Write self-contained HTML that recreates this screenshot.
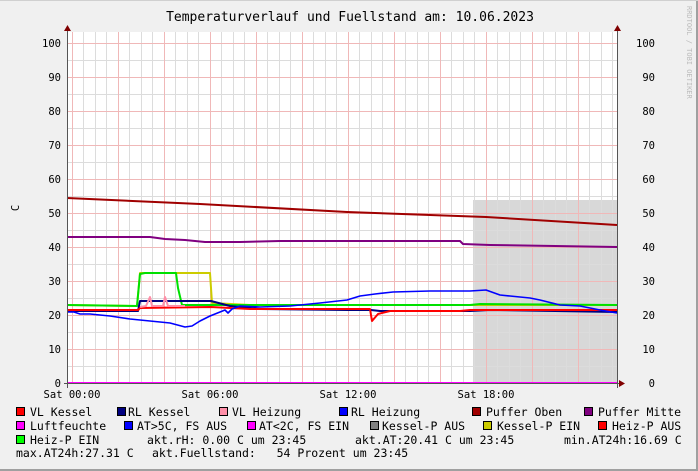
<!DOCTYPE html>
<html><head><meta charset="utf-8"><style>
body{margin:0;background:#f0f0f0}
svg{display:block}
text{font-family:"DejaVu Sans Mono","Liberation Mono",monospace;font-size:10.5px;fill:#000}
.lg{font-size:11.5px}
</style></head><body>
<svg width="698" height="471" viewBox="0 0 698 471" xmlns="http://www.w3.org/2000/svg">
<rect x="0" y="0" width="698" height="471" fill="#f0f0f0"/>
<line x1="0" y1="470" x2="698" y2="470" stroke="#a0a0a0" stroke-width="2"/>
<line x1="697" y1="0" x2="697" y2="471" stroke="#a0a0a0" stroke-width="2"/>
<line x1="0" y1="0.5" x2="698" y2="0.5" stroke="#d0d0d0"/>
<rect x="67" y="32" width="550" height="351" fill="#fff"/>
<rect x="473" y="200" width="144" height="183" fill="#d8d8d8"/>
<path stroke="#dcdcdc" stroke-width="1" fill="none" d="
M83.5,32V383M95.5,32V383M106.5,32V383M129.5,32V383M141.5,32V383M152.5,32V383M175.5,32V383M187.5,32V383M198.5,32V383M221.5,32V383M233.5,32V383M244.5,32V383M267.5,32V383M279.5,32V383M290.5,32V383M313.5,32V383M325.5,32V383M336.5,32V383M359.5,32V383M371.5,32V383M382.5,32V383M405.5,32V383M417.5,32V383M428.5,32V383M451.5,32V383M463.5,32V383M474.5,32V383M497.5,32V383M509.5,32V383M520.5,32V383M543.5,32V383M555.5,32V383M566.5,32V383M589.5,32V383M601.5,32V383M612.5,32V383
M67,366.5H617M67,332.5H617M67,298.5H617M67,264.5H617M67,230.5H617M67,196.5H617M67,162.5H617M67,128.5H617M67,94.5H617M67,60.5H617"/>
<path stroke="#f0b8b8" stroke-width="1" fill="none" d="
M72.5,32V383M118.5,32V383M164.5,32V383M210.5,32V383M256.5,32V383M302.5,32V383M348.5,32V383M394.5,32V383M440.5,32V383M486.5,32V383M532.5,32V383M578.5,32V383
M67,349.5H617M67,315.5H617M67,281.5H617M67,247.5H617M67,213.5H617M67,179.5H617M67,145.5H617M67,111.5H617M67,77.5H617M67,43.5H617"/>
<text x="350" y="21" text-anchor="middle" style="font-size:13px">Temperaturverlauf und Fuellstand am: 10.06.2023</text>
<text x="687" y="6" transform="rotate(90 687 6)" style="font-size:7px;fill:#bbb">RRDTOOL / TOBI OETIKER</text>
<text x="19" y="208" transform="rotate(-90 19 208)" text-anchor="middle">C</text>
<g text-anchor="end">
<text x="61" y="47">100</text><text x="61" y="81">90</text><text x="61" y="115">80</text><text x="61" y="149">70</text><text x="61" y="183">60</text><text x="61" y="217">50</text><text x="61" y="251">40</text><text x="61" y="285">30</text><text x="61" y="319">20</text><text x="61" y="353">10</text><text x="61" y="387">0</text>
<text x="655" y="47">100</text><text x="655" y="81">90</text><text x="655" y="115">80</text><text x="655" y="149">70</text><text x="655" y="183">60</text><text x="655" y="217">50</text><text x="655" y="251">40</text><text x="655" y="285">30</text><text x="655" y="319">20</text><text x="655" y="353">10</text><text x="655" y="387">0</text>
</g>
<g text-anchor="middle">
<text x="72" y="398">Sat 00:00</text><text x="210" y="398">Sat 06:00</text><text x="348" y="398">Sat 12:00</text><text x="486" y="398">Sat 18:00</text>
</g>
<g fill="none" stroke-width="2" stroke-linejoin="round">
<polyline stroke="#ff00ff" points="67,383 617,383"/>
<polyline stroke="#a00000" points="67,198 200,204 347,212 486,217 617,225"/>
<polyline stroke="#800080" points="67,237 150,237 165,239 185,240 205,242 240,242 280,241 460,241 463,244 490,245 617,247"/>
<polyline stroke="#cccc00" points="67,305 137,306 140,273 210,273 212,303 250,305 617,305"/>
<polyline stroke="#00e000" points="67,305 137,306 140,274 145,273 176,273 178,288 182,305 470,305 480,304 617,305"/>
<polyline stroke="#000080" points="67,311 138,311 140,301 211,301 230,306 260,309 347,310 371,310 380,311 470,311 490,310 617,312"/>
<polyline stroke="#ff0000" points="67,310 138,310 140,308 211,307 250,309 347,309 370,309 372,321 378,314 390,311 460,311 470,310 617,310"/>
<polyline stroke="#ff8fa8" points="140,307 146,306 150,297 152,306 163,306 165,297 168,306 185,306"/>
<polyline stroke="#0000ff" stroke-width="1.6" points="67,312 74,312 80,314 90,314 110,316 130,319 150,321 170,323 185,327 192,326 200,321 210,316 225,310 228,313 232,309 240,306 260,307 290,306 320,303 347,300 360,296 375,294 393,292 430,291 470,291 486,290 500,295 510,296 530,298 540,300 560,305 580,306 600,310 617,313"/>
</g>
<line x1="67.5" y1="30" x2="67.5" y2="388" stroke="#555" stroke-width="1"/>
<line x1="617.5" y1="30" x2="617.5" y2="388" stroke="#555" stroke-width="1"/>
<line x1="64" y1="383.5" x2="622" y2="383.5" stroke="#555" stroke-width="1"/>
<polygon points="64,31 67.5,25 71,31" fill="#800000"/>
<polygon points="614,31 617.5,25 621,31" fill="#800000"/>
<polygon points="619,380 625,383.5 619,387" fill="#800000"/>
<g stroke="#000" stroke-width="1">
<rect x="16.5" y="407.5" width="8" height="8" fill="#ff0000"/>
<rect x="117.5" y="407.5" width="8" height="8" fill="#000080"/>
<rect x="219.5" y="407.5" width="8" height="8" fill="#ff8fa8"/>
<rect x="339.5" y="407.5" width="8" height="8" fill="#0000ff"/>
<rect x="472.5" y="407.5" width="8" height="8" fill="#a00000"/>
<rect x="584.5" y="407.5" width="8" height="8" fill="#800080"/>
<rect x="16.5" y="421.5" width="8" height="8" fill="#ff00ff"/>
<rect x="124.5" y="421.5" width="8" height="8" fill="#0000ff"/>
<rect x="247.5" y="421.5" width="8" height="8" fill="#ff00ff"/>
<rect x="370.5" y="421.5" width="8" height="8" fill="#808080"/>
<rect x="483.5" y="421.5" width="8" height="8" fill="#cccc00"/>
<rect x="598.5" y="421.5" width="8" height="8" fill="#ff0000"/>
<rect x="16.5" y="435.5" width="8" height="8" fill="#00ff00"/>
</g>
<text class="lg" x="30" y="416">VL Kessel</text>
<text class="lg" x="128" y="416">RL Kessel</text>
<text class="lg" x="232" y="416">VL Heizung</text>
<text class="lg" x="351" y="416">RL Heizung</text>
<text class="lg" x="486" y="416">Puffer Oben</text>
<text class="lg" x="598" y="416">Puffer Mitte</text>
<text class="lg" x="30" y="430">Luftfeuchte</text>
<text class="lg" x="137" y="430">AT&gt;5C, FS AUS</text>
<text class="lg" x="259" y="430">AT&lt;2C, FS EIN</text>
<text class="lg" x="382" y="430">Kessel-P AUS</text>
<text class="lg" x="497" y="430">Kessel-P EIN</text>
<text class="lg" x="612" y="430">Heiz-P AUS</text>
<text class="lg" x="30" y="444">Heiz-P EIN</text>
<text class="lg" x="147" y="444">akt.rH: 0.00 C um 23:45</text>
<text class="lg" x="355" y="444">akt.AT:20.41 C um 23:45</text>
<text class="lg" x="564" y="444">min.AT24h:16.69 C</text>
<text class="lg" x="16" y="457">max.AT24h:27.31 C</text>
<text class="lg" x="152" y="457" xml:space="preserve">akt.Fuellstand:   54 Prozent um 23:45</text>
</svg>
</body></html>
